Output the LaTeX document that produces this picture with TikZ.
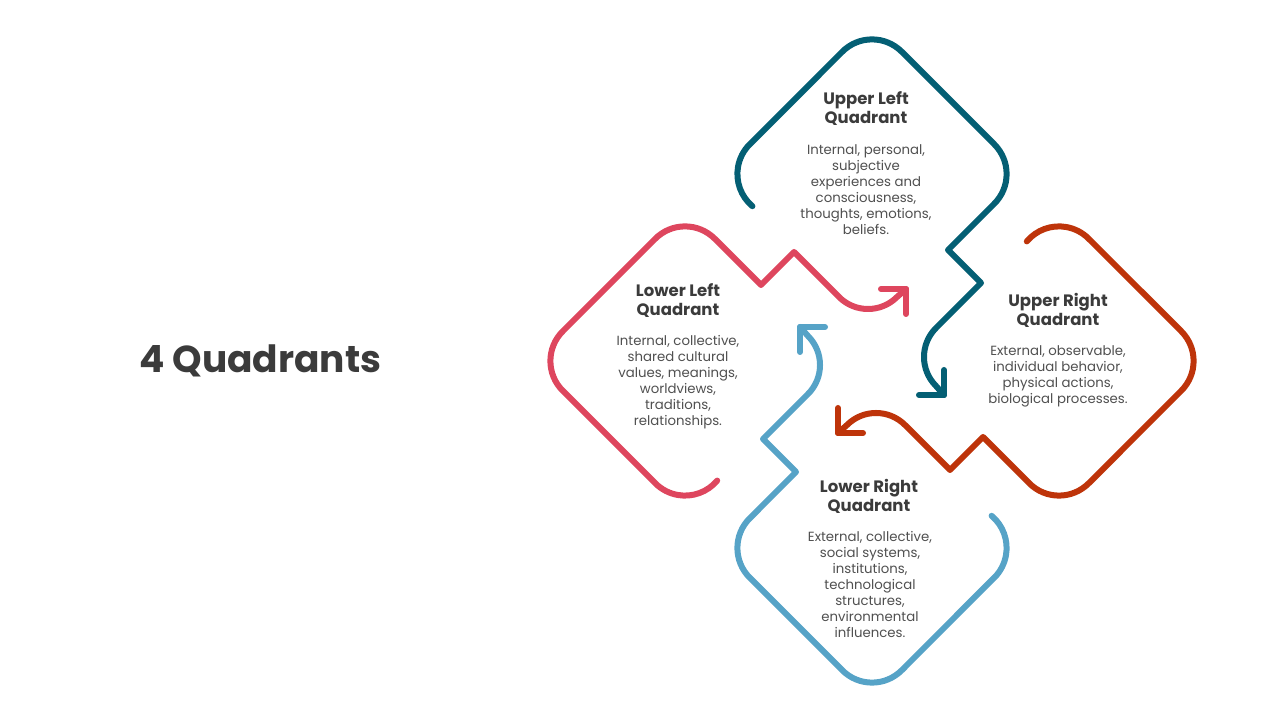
\documentclass[tikz,border=0pt]{standalone}
\usepackage{fontspec}
\setmainfont{Poppins}
\definecolor{cteal}{RGB}{4,95,116}
\definecolor{corange}{RGB}{190,52,10}
\definecolor{cblue}{RGB}{86,163,199}
\definecolor{cpink}{RGB}{222,70,94}
\definecolor{cdark}{RGB}{59,59,59}
\definecolor{cbody}{RGB}{80,80,80}
\newcommand\quadpathdraw[1]{%
  \draw[qline,#1] (-119.6,-32.2) arc[start angle=230,end angle=135,radius=42]
    -- (-29.7,122.3) arc[start angle=135,end angle=45,radius=42]
    -- (122.3,29.7) arc[start angle=45,end angle=-45,radius=42]
    -- (76,-76) -- (109,-109) -- (64,-154) arc[start angle=135,end angle=225,radius=41]
    -- (72,-221);
  \draw[qline,#1] (72,-196) -- (72,-221) -- (47,-221);
}
\begin{document}
\begin{tikzpicture}[x=1pt,y=1pt,
  qline/.style={line width=6pt,line cap=round,line join=round},
  head/.style={font=\fontsize{16.5}{19}\selectfont\bfseries,text=cdark,align=center,inner sep=0pt},
  body/.style={font=\fontsize{13.3}{16}\selectfont,text=cbody,align=center,inner sep=0pt}]
\useasboundingbox[fill=white] (0,0) rectangle (1280,720);
\coordinate (C) at (872,359);
\begin{scope}[shift={(C)},rotate=0,yshift=187]\quadpathdraw{cteal}\end{scope}
\begin{scope}[shift={(C)},rotate=-90,yshift=187]\quadpathdraw{corange}\end{scope}
\begin{scope}[shift={(C)},rotate=-180,yshift=187]\quadpathdraw{cblue}\end{scope}
\begin{scope}[shift={(C)},rotate=90,yshift=187]\quadpathdraw{cpink}\end{scope}

\node[font=\fontsize{37.5}{40}\selectfont\bfseries,text=cdark,anchor=west,inner sep=0pt] (title) at (139,359) {4 Quadrants};

\node[head] (ulh) at (866,611) {Upper Left\\Quadrant};
\node[body] (ulb) at (866,530) {Internal, personal,\\subjective\\experiences and\\consciousness,\\thoughts, emotions,\\beliefs.};

\node[head] (urh) at (1058,410) {Upper Right\\Quadrant};
\node[body] (urb) at (1058,344) {External, observable,\\individual behavior,\\physical actions,\\biological processes.};

\node[head] (llh) at (678,419) {Lower Left\\Quadrant};
\node[body] (llb) at (678,338) {Internal, collective,\\shared cultural\\values, meanings,\\worldviews,\\traditions,\\relationships.};

\node[head] (lrh) at (869,224) {Lower Right\\Quadrant};
\node[body] (lrb) at (870,135) {External, collective,\\social systems,\\institutions,\\technological\\structures,\\environmental\\influences.};
\end{tikzpicture}
\end{document}
